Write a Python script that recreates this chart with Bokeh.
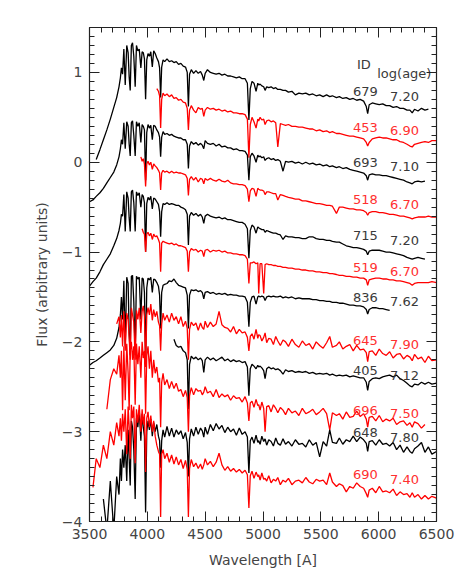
from bokeh.plotting import figure
from bokeh.models import (Range1d, LinearAxis, FixedTicker, CustomJSTickFormatter,
                          ColumnDataSource, CustomLabelingPolicy)
from bokeh.core.properties import value
from bokeh.embed import file_html
from bokeh.resources import INLINE

N = None

# common wavelength grid [A]
wavelength = [
    3500, 3530, 3558, 3590, 3620, 3650, 3680, 3710, 3735, 3755,
    3767, 3776, 3786, 3797, 3809, 3822, 3834, 3843, 3852, 3862,
    3872, 3883, 3895, 3906, 3918, 3930, 3944, 3955, 3965, 3975,
    3985, 3995, 4006, 4018, 4030, 4043, 4055, 4068, 4082, 4096,
    4106, 4115, 4124, 4136, 4150, 4170, 4190, 4210, 4230, 4250,
    4270, 4290, 4310, 4330, 4345, 4355, 4365, 4380, 4400, 4420,
    4440, 4460, 4475, 4488, 4500, 4520, 4545, 4570, 4595, 4620,
    4645, 4670, 4695, 4720, 4745, 4770, 4795, 4820, 4845, 4865,
    4878, 4890, 4905, 4922, 4940, 4955, 4963, 4975, 4990, 5006,
    5018, 5032, 5050, 5070, 5090, 5110, 5128, 5150, 5173, 5195,
    5220, 5250, 5280, 5310, 5340, 5370, 5400, 5430, 5460, 5490,
    5520, 5550, 5577, 5600, 5635, 5660, 5690, 5720, 5750, 5780,
    5810, 5840, 5870, 5893, 5905, 5918, 5945, 5975, 6005, 6035,
    6065, 6095, 6125, 6155, 6185, 6215, 6245, 6270, 6290, 6310,
    6340, 6370, 6400, 6430, 6460, 6500,
]

flux_679 = [
    N, N, 0.03, 0.14, 0.25, 0.36, 0.48, 0.61, 0.72, 0.84,
    0.94, 1.05, 0.98, 1.26, 0.86, 1.30, 1.22, 0.95, 0.80, 1.30,
    1.33, 1.18, 0.84, 1.30, 1.24, 1.26, 1.05, 1.23, 1.22, 1.15,
    0.70, 1.14, 1.21, 1.18, 1.23, 1.06, 1.24, 1.21, 1.16, 1.12,
    1.05, 0.72, 1.06, 1.14, 1.12, 1.15, 1.12, 1.13, 1.11, 1.12,
    1.09, 1.10, 1.07, 1.06, 1.00, 0.62, 0.98, 1.03, 0.99, 1.02,
    0.99, 1.01, 0.97, 0.91, 0.99, 1.03, 1.00, 0.99, 0.98, 0.99,
    0.97, 0.98, 0.96, 0.96, 0.95, 0.94, 0.95, 0.93, 0.93, 0.88,
    0.47, 0.82, 0.90, 0.88, 0.79, 0.88, 0.86, 0.87, 0.85, 0.84,
    0.80, 0.84, 0.83, 0.84, 0.82, 0.83, 0.81, 0.81, 0.80, 0.80,
    0.78, 0.79, 0.75, 0.77, 0.76, 0.77, 0.75, 0.76, 0.74, 0.75,
    0.73, 0.75, 0.73, 0.74, 0.72, 0.73, 0.71, 0.72, 0.70, 0.71,
    0.69, 0.70, 0.68, 0.62, 0.54, 0.64, 0.66, 0.65, 0.64, 0.65,
    0.63, 0.63, 0.61, 0.62, 0.60, 0.60, 0.58, 0.58, 0.55, 0.59,
    0.57, 0.60, 0.58, 0.59, N, N,
]

flux_453 = [
    N, N, N, N, N, N, N, N, N, N,
    N, N, N, N, N, N, N, N, N, N,
    N, N, N, N, N, N, N, N, N, N,
    N, N, N, N, N, N, N, N, 0.82, 0.79,
    0.74, 0.38, 0.70, 0.77, 0.74, 0.76, 0.73, 0.75, 0.71, 0.72,
    0.69, 0.70, 0.67, 0.66, 0.60, 0.36, 0.58, 0.63, 0.58, 0.55,
    0.61, 0.59, 0.60, 0.51, 0.58, 0.61, 0.59, 0.60, 0.58, 0.59,
    0.57, 0.58, 0.56, 0.57, 0.55, 0.55, 0.54, 0.54, 0.53, 0.48,
    0.05, 0.42, 0.50, 0.45, 0.38, 0.48, 0.46, 0.50, 0.47, 0.48,
    0.42, 0.46, 0.47, 0.45, 0.46, 0.44, 0.17, 0.43, 0.42, 0.41,
    0.42, 0.40, 0.40, 0.39, 0.39, 0.38, 0.37, 0.37, 0.35, 0.36,
    0.34, 0.35, 0.33, 0.34, 0.32, 0.32, 0.31, 0.30, 0.29, 0.29,
    0.28, 0.27, 0.26, 0.22, 0.18, 0.22, 0.26, 0.27, 0.28, 0.27,
    0.27, 0.26, 0.25, 0.25, 0.23, 0.22, 0.20, 0.18, 0.17, 0.20,
    0.21, 0.22, 0.23, 0.22, 0.24, 0.24,
]

flux_693 = [
    -0.44, -0.42, -0.38, -0.34, -0.29, -0.23, -0.17, -0.11, -0.03, 0.06,
    0.15, 0.25, 0.20, 0.44, 0.15, 0.45, 0.40, 0.20, 0.07, 0.44,
    0.46, 0.30, 0.07, 0.45, 0.40, 0.44, 0.22, 0.42, 0.40, 0.36,
    -0.20, 0.33, 0.42, 0.38, 0.41, 0.25, 0.41, 0.40, 0.36, 0.33,
    0.28, 0.06, 0.28, 0.34, 0.31, 0.32, 0.30, 0.31, 0.29, 0.28,
    0.27, 0.27, 0.25, 0.25, 0.20, -0.07, 0.18, 0.23, 0.20, 0.22,
    0.19, 0.21, 0.19, 0.15, 0.24, 0.21, 0.20, 0.21, 0.18, 0.20,
    0.17, 0.18, 0.16, 0.16, 0.14, 0.15, 0.13, 0.13, 0.12, 0.08,
    -0.20, 0.06, 0.10, 0.07, 0.00, 0.08, 0.06, 0.07, 0.05, 0.06,
    0.02, 0.04, 0.05, 0.03, 0.04, 0.02, 0.03, 0.01, -0.10, 0.01,
    0.00, 0.01, -0.01, 0.00, -0.02, 0.00, -0.02, -0.01, -0.03, -0.02,
    -0.04, -0.03, -0.05, -0.04, -0.06, -0.05, -0.07, -0.06, -0.08, -0.09,
    -0.10, -0.11, -0.12, -0.15, -0.20, -0.14, -0.13, -0.14, -0.14, -0.15,
    -0.15, -0.16, -0.17, -0.18, -0.19, -0.20, -0.22, -0.23, -0.24, -0.22,
    -0.21, -0.22, -0.21, N, N, N,
]

flux_518 = [
    N, N, N, N, N, N, N, N, N, N,
    N, N, N, N, N, N, N, N, N, N,
    N, N, N, N, N, N, 0.06, 0.01, 0.04, -0.02,
    -0.27, -0.02, 0.01, -0.03, 0.00, -0.08, -0.02, -0.04, -0.06, -0.09,
    -0.12, -0.31, -0.12, -0.09, -0.11, -0.10, -0.12, -0.10, -0.12, -0.11,
    -0.12, -0.12, -0.13, -0.14, -0.18, -0.37, -0.19, -0.16, -0.20, -0.17,
    -0.22, -0.18, -0.19, -0.24, -0.18, -0.20, -0.18, -0.20, -0.21, -0.19,
    -0.21, -0.22, -0.20, -0.23, -0.24, -0.24, -0.25, -0.25, -0.26, -0.30,
    -0.44, -0.32, -0.29, -0.30, -0.38, -0.29, -0.30, -0.31, -0.31, -0.32,
    -0.36, -0.33, -0.33, -0.34, -0.35, -0.35, -0.42, -0.36, -0.37, -0.38,
    -0.39, -0.40, -0.41, -0.41, -0.43, -0.43, -0.44, -0.45, -0.46, -0.46,
    -0.47, -0.48, -0.48, -0.49, -0.57, -0.50, -0.50, -0.51, -0.52, -0.52,
    -0.53, -0.53, -0.54, -0.56, -0.59, -0.56, -0.55, -0.55, -0.56, -0.56,
    -0.57, -0.58, -0.58, -0.59, -0.60, -0.60, -0.61, -0.62, -0.63, -0.62,
    -0.61, -0.61, -0.61, -0.60, -0.61, -0.61,
]

flux_715 = [
    -1.38, -1.33, -1.29, -1.22, -1.14, -1.08, -1.02, -0.93, -0.85, -0.76,
    -0.68, -0.58, -0.60, -0.36, -0.77, -0.33, -0.40, -0.62, -0.77, -0.33,
    -0.31, -0.45, -0.77, -0.33, -0.37, -0.34, -0.50, -0.36, -0.38, -0.45,
    -1.00, -0.46, -0.39, -0.42, -0.38, -0.52, -0.40, -0.41, -0.44, -0.47,
    -0.55, -0.83, -0.55, -0.46, -0.47, -0.45, -0.47, -0.46, -0.47, -0.48,
    -0.48, -0.50, -0.51, -0.53, -0.58, -0.92, -0.60, -0.56, -0.59, -0.57,
    -0.60, -0.58, -0.61, -0.68, -0.60, -0.58, -0.60, -0.61, -0.62, -0.61,
    -0.63, -0.62, -0.64, -0.64, -0.65, -0.66, -0.67, -0.67, -0.69, -0.74,
    -1.07, -0.76, -0.70, -0.72, -0.79, -0.72, -0.73, -0.74, -0.75, -0.75,
    -0.78, -0.76, -0.77, -0.78, -0.79, -0.79, -0.80, -0.81, -0.86, -0.82,
    -0.83, -0.83, -0.84, -0.84, -0.85, -0.85, -0.83, -0.83, -0.85, -0.86,
    -0.86, -0.87, -0.87, -0.88, -0.89, -0.89, -0.91, -0.93, -0.94, -0.95,
    -0.95, -0.96, -0.97, -0.99, -1.03, -0.99, -0.98, -0.98, -0.98, -0.99,
    -1.00, -1.00, -1.01, -1.02, -1.03, -1.04, -1.06, -1.07, -1.08, -1.07,
    -1.06, -1.07, -1.08, N, N, N,
]

flux_519 = [
    N, N, N, N, N, N, N, N, N, N,
    N, N, N, N, N, N, N, N, N, N,
    N, N, N, N, N, N, N, -0.74, -0.78, -0.80,
    -1.00, -0.80, -0.78, -0.82, -0.79, -0.86, -0.80, -0.83, -0.82, -0.86,
    -0.90, -1.22, -0.90, -0.88, -0.89, -0.90, -0.91, -0.90, -0.92, -0.91,
    -0.93, -0.93, -0.94, -0.95, -0.99, -1.22, -1.00, -0.96, -0.98, -0.97,
    -1.00, -0.98, -0.99, -1.05, -0.98, -0.97, -1.00, -0.98, -0.99, -0.98,
    -1.00, -0.99, -1.01, -1.01, -1.02, -1.02, -1.03, -1.03, -1.04, -1.08,
    -1.35, -1.12, -1.12, -1.11, -1.13, -1.12, -1.46, -1.13, -1.13, -1.46,
    -1.14, -1.13, -1.14, -1.14, -1.15, -1.15, -1.16, -1.16, -1.17, -1.17,
    -1.18, -1.18, -1.19, -1.19, -1.20, -1.20, -1.21, -1.21, -1.22, -1.22,
    -1.23, -1.23, -1.24, -1.24, -1.25, -1.26, -1.26, -1.27, -1.27, -1.28,
    -1.28, -1.29, -1.29, -1.31, -1.37, -1.31, -1.30, -1.29, -1.29, -1.30,
    -1.30, -1.31, -1.31, -1.32, -1.32, -1.33, -1.34, -1.35, -1.37, -1.35,
    -1.34, -1.34, -1.34, -1.34, -1.33, -1.34,
]

flux_836 = [
    -2.26, -2.23, -2.21, -2.18, -2.15, -2.12, -2.09, -2.04, -1.96, -1.84,
    -1.70, -1.50, -1.75, -1.32, -2.05, -1.28, -1.35, -1.90, -2.15, -1.27,
    -1.26, -1.55, -2.15, -1.27, -1.30, -1.28, -1.75, -1.29, -1.30, -1.45,
    -2.24, -1.40, -1.29, -1.31, -1.28, -1.45, -1.30, -1.31, -1.34, -1.38,
    -1.48, -1.85, -1.45, -1.37, -1.36, -1.35, -1.32, -1.33, -1.30, -1.34,
    -1.37, -1.38, -1.39, -1.40, -1.48, -1.85, -1.48, -1.42, -1.43, -1.42,
    -1.44, -1.43, -1.45, -1.52, -1.45, -1.44, -1.46, -1.45, -1.47, -1.46,
    -1.47, -1.46, -1.48, -1.47, -1.48, -1.48, -1.49, -1.49, -1.50, -1.56,
    -1.83, -1.56, -1.50, -1.49, -1.58, -1.50, -1.49, -1.50, -1.49, -1.50,
    -1.54, -1.50, -1.49, -1.50, -1.49, -1.50, -1.50, -1.49, -1.51, -1.50,
    -1.51, -1.50, -1.52, -1.51, -1.52, -1.52, -1.52, -1.53, -1.53, -1.54,
    -1.54, -1.55, -1.55, -1.56, -1.56, -1.57, -1.57, -1.58, -1.59, -1.59,
    -1.60, -1.60, -1.61, -1.64, -1.69, -1.64, -1.62, -1.62, -1.63, -1.63,
    -1.64, -1.65, N, N, N, N, N, N, N, N,
    N, N, N, N, N, N,
]

flux_645 = [
    N, N, N, N, N, N, N, N, -1.80, -1.72,
    -1.95, -1.70, -2.05, -1.66, -2.10, -1.68, -1.75, -1.95, -2.20, -1.62,
    -1.70, -1.78, -2.20, -1.65, -1.75, -1.62, -1.90, -1.66, -1.60, -1.72,
    -2.28, -1.70, -1.62, -1.70, -1.58, -1.76, -1.64, -1.72, -1.66, -1.78,
    -1.82, -2.10, -1.80, -1.68, -1.76, -1.70, -1.78, -1.68, -1.76, -1.72,
    -1.80, -1.72, -1.83, -1.77, -1.85, -2.20, -1.86, -1.78, -1.82, -1.79,
    -1.87, -1.79, -1.84, -1.86, -1.77, -1.84, -1.78, -1.83, -1.80, -1.66,
    -1.81, -1.84, -1.85, -1.89, -1.83, -1.91, -1.86, -1.90, -1.89, -1.95,
    -2.10, -1.94, -1.91, -1.97, -1.86, -1.96, -1.92, -1.93, -1.99, -1.95,
    -1.90, -2.01, -1.96, -1.97, -2.03, -1.94, -1.99, -2.04, -1.98, -2.00,
    -2.05, -1.97, -2.03, -2.06, -1.99, -2.04, -2.02, -2.08, -2.00, -2.04,
    -2.07, -2.01, -1.94, -2.06, -2.04, -2.00, -2.08, -2.05, -2.03, -2.10,
    -2.04, -2.09, -2.08, -2.12, -2.22, -2.11, -2.10, -2.15, -2.08, -2.13,
    -2.15, -2.11, -2.18, -2.14, -2.13, -2.19, -2.15, -2.17, -2.21, -2.14,
    -2.19, -2.17, -2.23, -2.16, -2.21, -2.20,
]

flux_405 = [
    N, N, N, N, N, N, N, N, N, N,
    N, N, N, N, N, N, N, N, N, N,
    N, N, N, N, N, N, N, N, N, N,
    N, N, N, N, N, N, N, N, N, N,
    N, N, N, N, N, N, N, N, -1.97, -2.04,
    -2.06, -2.05, -2.10, -2.12, -2.20, -2.75, -2.25, -2.16, -2.19, -2.17,
    -2.20, -2.18, -2.21, -2.34, -2.20, -2.17, -2.20, -2.18, -2.21, -2.19,
    -2.17, -2.21, -2.19, -2.22, -2.20, -2.22, -2.21, -2.23, -2.22, -2.28,
    -2.60, -2.30, -2.25, -2.27, -2.30, -2.26, -2.28, -2.27, -2.29, -2.32,
    -2.41, -2.30, -2.28, -2.30, -2.29, -2.31, -2.30, -2.32, -2.36, -2.31,
    -2.33, -2.32, -2.34, -2.33, -2.34, -2.33, -2.35, -2.34, -2.36, -2.35,
    -2.36, -2.35, -2.37, -2.36, -2.38, -2.37, -2.38, -2.37, -2.39, -2.38,
    -2.39, -2.40, -2.40, -2.45, -2.54, -2.44, -2.41, -2.40, -2.41, -2.39,
    -2.38, -2.37, -2.39, -2.37, -2.41, -2.43, -2.46, -2.49, -2.50, -2.47,
    -2.48, -2.45, -2.47, -2.45, -2.47, -2.46,
]

flux_696 = [
    N, N, N, N, N, -2.75, -2.42, -2.30, -2.36, -2.15,
    -2.40, -2.10, -2.76, -2.05, -2.65, -2.02, -2.35, -2.76, -2.10, -2.00,
    -2.20, -2.05, -2.70, -2.02, -2.25, -2.05, -2.40, -2.00, -2.18, -2.10,
    -2.80, -2.15, -2.05, -2.30, -2.10, -2.40, -2.20, -2.35, -2.28, -2.45,
    -2.40, -2.95, -2.45, -2.35, -2.48, -2.42, -2.52, -2.44, -2.52, -2.46,
    -2.55, -2.53, -2.61, -2.54, -2.62, -3.00, -2.60, -2.51, -2.59, -2.52,
    -2.55, -2.54, -2.59, -2.56, -2.50, -2.57, -2.55, -2.61, -2.53, -2.62,
    -2.58, -2.61, -2.59, -2.65, -2.60, -2.63, -2.62, -2.67, -2.61, -2.68,
    -2.88, -2.68, -2.66, -2.73, -2.64, -2.71, -2.70, -2.76, -2.67, -2.74,
    -3.00, -2.72, -2.71, -2.78, -2.70, -2.74, -2.79, -2.73, -2.76, -2.81,
    -2.74, -2.79, -2.77, -2.82, -2.74, -2.80, -2.78, -2.75, -2.81, -2.78,
    -2.74, -2.80, -2.98, -2.79, -2.82, -2.80, -2.86, -2.78, -2.84, -2.83,
    -2.77, -2.83, -2.80, -2.86, -2.95, -2.84, -2.83, -2.88, -2.82, -2.89,
    -2.86, -2.88, -2.85, -2.92, -2.89, -2.88, -2.93, -2.90, -2.95, -2.89,
    -2.91, -2.96, -2.92, N, N, N,
]

flux_648 = [
    N, N, N, N, -3.75, -4.10, -3.55, -4.10, -3.50, -3.70,
    -3.30, -3.55, -3.20, -3.40, -3.15, -3.55, -2.98, -3.30, -3.60, -2.88,
    -2.95, -3.20, -3.75, -2.85, -2.95, -2.76, -3.10, -2.80, -2.95, -3.05,
    -3.90, -3.00, -2.88, -2.98, -2.86, -3.05, -2.90, -3.00, -2.92, -3.05,
    -3.10, -3.40, -3.10, -2.98, -3.06, -2.94, -3.05, -2.96, -3.06, -2.98,
    -3.03, -2.99, -3.08, -3.01, -3.12, -3.50, -3.08, -2.97, -3.05, -2.95,
    -3.03, -2.96, -2.99, -3.06, -2.95, -3.03, -2.92, -2.99, -2.91, -2.97,
    -2.93, -3.01, -2.95, -3.00, -2.97, -3.04, -2.96, -3.03, -3.00, -3.06,
    -3.46, -3.10, -3.06, -3.13, -3.04, -3.12, -3.10, -3.14, -3.05, -3.11,
    -3.08, -3.15, -3.09, -3.11, -3.16, -3.07, -3.13, -3.15, -3.08, -3.14,
    -3.11, -3.16, -3.09, -3.14, -3.13, -3.17, -3.09, -3.15, -3.12, -3.28,
    -3.11, -3.16, -2.98, -3.12, -3.13, -3.07, -3.14, -3.09, -3.11, -3.05,
    -3.11, -3.06, -3.09, -3.13, -3.22, -3.11, -3.10, -3.15, -3.09, -3.14,
    -3.13, -3.16, -3.12, -3.20, -3.15, -3.23, -3.17, -3.22, -3.24, -3.19,
    -3.16, -3.12, -3.23, -3.17, -3.25, -3.22,
]

flux_690 = [
    N, -3.62, -3.30, -3.40, -3.15, -3.30, -3.00, -3.15, -2.90, -3.05,
    -2.85, -3.10, -2.80, -3.00, -2.75, -3.25, -2.72, -2.95, -3.30, -2.70,
    -2.85, -2.72, -3.35, -2.75, -2.90, -2.70, -3.00, -2.75, -2.92, -2.80,
    -3.45, -2.85, -2.78, -2.95, -2.82, -3.00, -2.88, -3.05, -3.15, -3.22,
    -3.25, -3.95, -3.25, -3.20, -3.30, -3.24, -3.34, -3.26, -3.36, -3.28,
    -3.37, -3.31, -3.41, -3.32, -3.42, -3.95, -3.41, -3.31, -3.39, -3.35,
    -3.41, -3.36, -3.42, -3.37, -3.30, -3.37, -3.33, -3.39, -3.34, -3.24,
    -3.37, -3.43, -3.39, -3.44, -3.41, -3.45, -3.42, -3.46, -3.43, -3.48,
    -3.85, -3.49, -3.44, -3.52, -3.45, -3.50, -3.48, -3.54, -3.46, -3.53,
    -3.52, -3.55, -3.49, -3.57, -3.53, -3.55, -3.51, -3.59, -3.54, -3.56,
    -3.52, -3.59, -3.55, -3.54, -3.57, -3.51, -3.56, -3.58, -3.53, -3.55,
    -3.54, -3.59, -3.46, -3.56, -3.61, -3.58, -3.60, -3.67, -3.61, -3.63,
    -3.57, -3.61, -3.63, -3.69, -3.73, -3.65, -3.63, -3.68, -3.61, -3.67,
    -3.66, -3.68, -3.64, -3.71, -3.67, -3.70, -3.69, -3.73, -3.68, -3.73,
    -3.70, -3.75, -3.71, -3.75, -3.72, -3.74,
]

# cluster IDs, log(age) and label heights (flux units), top to bottom
cluster_ids = ["679", "453", "693", "518", "715", "519", "836", "645", "405", "696", "648", "690"]
log_ages = ["7.20", "6.90", "7.10", "6.70", "7.20", "6.70", "7.62", "7.90", "7.12", "7.50", "7.80", "7.40"]
id_label_y = [0.79, 0.39, 0.00, -0.42, -0.82, -1.17, -1.505, -1.98, -2.32, -2.76, -3.01, -3.48]
age_label_y = [0.73, 0.35, -0.05, -0.47, -0.875, -1.215, -1.555, -2.03, -2.37, -2.80, -3.065, -3.53]

fluxes = [flux_679, flux_453, flux_693, flux_518, flux_715, flux_519,
          flux_836, flux_645, flux_405, flux_696, flux_648, flux_690]

for fl in fluxes:
    assert len(fl) == len(wavelength), len(fl)

BLACK = "#000000"
RED = "#ff0000"
TXT_BLACK = "#3a3a3a"
TXT_RED = "#ff3030"
FONT = "DejaVu Sans"
AXC = "#222222"

p = figure(frame_width=347, frame_height=494,
           x_range=Range1d(3500, 6500), y_range=Range1d(-4, 1.5),
           output_backend="svg", toolbar_location=None,
           min_border_left=89, min_border_right=22, min_border_top=27, min_border_bottom=48,
           background_fill_color="white", border_fill_color="white",
           outline_line_color=None)
p.xgrid.visible = False
p.ygrid.visible = False

xt = FixedTicker(ticks=[3500, 4000, 4500, 5000, 5500, 6000, 6500],
                 minor_ticks=list(range(3500, 6501, 100)))
yt = FixedTicker(ticks=[-4, -3, -2, -1, 0, 1],
                 minor_ticks=[round(-4 + 0.1 * i, 1) for i in range(56)])
yfmt = CustomJSTickFormatter(code="return (tick < 0 ? '\u2212' : '') + Math.abs(tick);")


def style(ax):
    ax.major_tick_in = 10
    ax.major_tick_out = 0
    ax.minor_tick_in = 5
    ax.minor_tick_out = 0
    ax.axis_line_color = AXC
    ax.axis_line_width = 1.2
    ax.major_tick_line_color = AXC
    ax.minor_tick_line_color = AXC
    ax.major_label_text_font = FONT
    ax.major_label_text_font_size = "14px"
    ax.major_label_text_color = "#444444"
    ax.axis_label_text_font = FONT
    ax.axis_label_text_font_size = "14px"
    ax.axis_label_text_font_style = "normal"
    ax.axis_label_text_color = "#444444"


xa = p.xaxis[0]
xa.ticker = xt
xa.axis_label = "Wavelength [A]"
style(xa)
xa.major_label_standoff = 7
xa.axis_label_standoff = 10

ya = p.yaxis[0]
ya.ticker = yt
ya.formatter = yfmt
ya.axis_label = "Flux (arbitrary units)"
style(ya)
ya.major_label_standoff = 7
ya.axis_label_standoff = 9

no_labels = CustomLabelingPolicy(code="return []")
blank = CustomJSTickFormatter(code="return '';")

top = LinearAxis(ticker=xt, formatter=blank, major_label_policy=no_labels)
style(top)
top.major_label_standoff = 0
p.add_layout(top, "above")

right = LinearAxis(ticker=yt, formatter=blank,
                   major_label_policy=CustomLabelingPolicy(code="return []"))
style(right)
right.major_label_standoff = 0
p.add_layout(right, "right")

for i, fl in enumerate(fluxes):
    xs = [w for w, f in zip(wavelength, fl) if f is not None]
    ys = [f for f in fl if f is not None]
    p.line(xs, ys, line_color=BLACK if i % 2 == 0 else RED, line_width=1.3)

colors = [TXT_BLACK if i % 2 == 0 else TXT_RED for i in range(len(cluster_ids))]
src_id = ColumnDataSource(dict(x=[5885] * len(cluster_ids), y=id_label_y, t=cluster_ids, c=colors))
src_age = ColumnDataSource(dict(x=[6223] * len(log_ages), y=age_label_y, t=log_ages, c=colors))
for src in (src_id, src_age):
    p.text(x="x", y="y", text="t", text_color="c", source=src,
           text_font=value(FONT), text_font_size="13px",
           text_align="center", text_baseline="middle")

hdr = ColumnDataSource(dict(x=[5872, 6222], y=[1.093, 0.99], t=["ID", "log(age)"]))
p.text(x="x", y="y", text="t", source=hdr, text_color=TXT_BLACK,
       text_font=value(FONT), text_font_size="13px",
       text_align="center", text_baseline="middle")

open("out.html", "w").write(file_html(p, INLINE))
